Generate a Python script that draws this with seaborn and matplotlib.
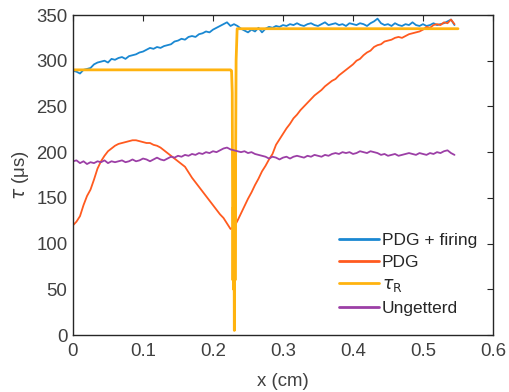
import numpy as np
import pandas as pd
import matplotlib
matplotlib.use("Agg")
import matplotlib.pyplot as plt
import seaborn as sns

# ---- data ----
x_pos = np.round(np.arange(0, 0.5451, 0.005), 3)

pdg_firing = [289, 288, 286, 290, 291, 292, 296, 298, 299, 300,
              298, 302, 301, 303, 304, 302, 305, 306, 307, 309,
              310, 312, 314, 313, 315, 314, 316, 317, 318, 321,
              322, 324, 323, 326, 327, 326, 329, 330, 332, 331,
              334, 336, 338, 340, 342, 338, 340, 338, 335, 333,
              331, 334, 332, 336, 331, 335, 337, 336, 338, 337,
              339, 338, 340, 339, 341, 339, 338, 340, 341, 339,
              338, 340, 342, 339, 340, 341, 339, 340, 338, 341,
              340, 339, 341, 340, 338, 341, 343, 346, 341, 339,
              340, 338, 341, 339, 338, 340, 339, 342, 339, 338,
              340, 338, 339, 341, 339, 340, 341, 343, 345, 339]

pdg = [120, 124, 130, 142, 152, 159, 170, 182, 190, 196,
       201, 204, 207, 209, 210, 211, 212, 213, 213, 212,
       211, 210, 210, 208, 207, 205, 202, 199, 196, 193,
       190, 187, 184, 178, 172, 167, 162, 157, 152, 147,
       142, 137, 132, 128, 122, 116, 118, 125, 133, 141,
       149, 156, 164, 171, 179, 185, 192, 198, 208, 214,
       220, 226, 231, 237, 241, 246, 250, 254, 258, 262,
       265, 268, 272, 275, 278, 280, 284, 287, 290, 293,
       296, 300, 302, 306, 309, 311, 315, 317, 318, 321,
       322, 323, 325, 326, 325, 327, 329, 330, 331, 332,
       334, 337, 336, 339, 340, 339, 342, 341, 345, 340]

ungetterd = [190, 191, 188, 190, 187, 189, 188, 190, 189, 191,
             188, 190, 189, 190, 191, 189, 190, 192, 190, 191,
             193, 192, 190, 192, 194, 192, 191, 193, 195, 194,
             196, 195, 197, 196, 198, 197, 199, 198, 200, 199,
             201, 200, 202, 204, 205, 203, 202, 201, 200, 201,
             199, 200, 198, 197, 196, 195, 193, 195, 194, 192,
             194, 195, 193, 195, 196, 195, 194, 196, 195, 197,
             196, 195, 197, 196, 198, 199, 198, 200, 199, 200,
             198, 199, 201, 200, 199, 201, 200, 199, 197, 198,
             196, 197, 198, 196, 197, 198, 199, 198, 197, 199,
             198, 197, 199, 198, 200, 199, 201, 202, 199, 197]

tau_r_x = [0, 0.225, 0.2265, 0.2275, 0.228, 0.2285, 0.229, 0.2295,
           0.230, 0.2305, 0.231, 0.2315, 0.233, 0.2345, 0.55]
tau_r = [290, 290, 289, 265, 150, 60, 140, 50, 120, 5, 200, 60, 300, 335, 335]

colors = {"blue": "#1a88d2", "orange": "#ff5a1f", "yellow": "#ffb30f", "purple": "#9c3fa6"}

# ---- plot ----
sns.set_style("white")
plt.rcParams["font.family"] = ["Liberation Sans", "DejaVu Sans"]
plt.rcParams["mathtext.fontset"] = "dejavusans"

fig, ax = plt.subplots(figsize=(5.1, 3.92), dpi=100)
fig.subplots_adjust(left=73/510, right=493/510, top=1-15/392, bottom=1-335/392)

sns.lineplot(x=x_pos, y=pdg_firing, ax=ax, color=colors["blue"], lw=1.3,
             label="PDG + firing", sort=False, estimator=None)
sns.lineplot(x=x_pos, y=pdg, ax=ax, color=colors["orange"], lw=1.3,
             label="PDG", sort=False, estimator=None)
sns.lineplot(x=tau_r_x, y=tau_r, ax=ax, color=colors["yellow"], lw=2,
             label=r"$\tau_\mathrm{R}$", sort=False, estimator=None)
sns.lineplot(x=x_pos, y=ungetterd, ax=ax, color=colors["purple"], lw=1.3,
             label="Ungetterd", sort=False, estimator=None)

ax.set_xlim(0, 0.6)
ax.set_ylim(0, 350)
ax.set_xticks([0, 0.1, 0.2, 0.3, 0.4, 0.5, 0.6])
ax.set_xticklabels(["0", "0.1", "0.2", "0.3", "0.4", "0.5", "0.6"])
ax.set_yticks(range(0, 351, 50))
ax.tick_params(direction="in", length=4, width=0.8, top=True, right=True,
               labelsize=13.4, colors="#262626", labelcolor="#404040")
ax.tick_params(axis="x", pad=6)
ax.tick_params(axis="y", pad=4)
for s in ax.spines.values():
    s.set_color("#262626")
    s.set_linewidth(1.0)
ax.set_xlabel("x (cm)", fontsize=13.4, color="#404040", labelpad=9)
ax.set_ylabel(r"$\tau$ (μs)", fontsize=13.4, color="#404040", labelpad=4)

leg = ax.legend(loc="lower right", frameon=False, fontsize=12.5, handlelength=2.3,
                handletextpad=0.2, labelspacing=0.4, bbox_to_anchor=(1.0, 0.01))
for line in leg.get_lines():
    line.set_linewidth(2.0)
for t in leg.get_texts():
    t.set_color("#262626")

fig.savefig("out.png", dpi=100)
